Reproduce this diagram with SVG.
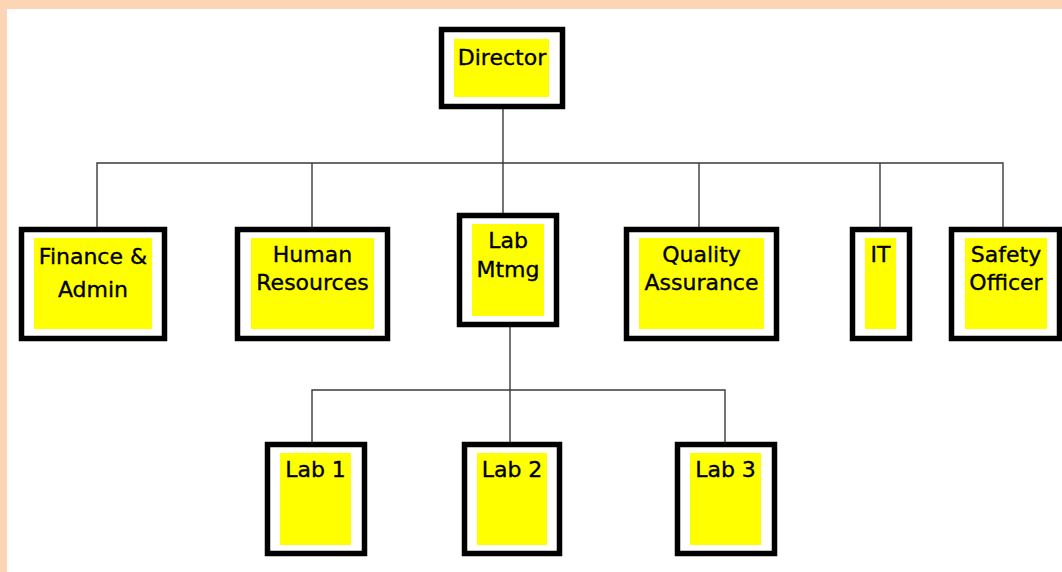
<svg xmlns="http://www.w3.org/2000/svg" width="1062" height="572" viewBox="0 0 1062 572">
  <style>
    .frame { fill: #ffffff; stroke: #000000; stroke-width: 5.5; }
    .fill { fill: #ffff00; }
    .label { font-family: "DejaVu Sans", Verdana, sans-serif; font-size: 22px; fill: #000000; stroke: #000000; stroke-width: 0.35; text-anchor: middle; }
    .wire { fill: none; stroke: #3a3a3a; stroke-width: 1.4; }
  </style>
  <!-- page background with peach margin -->
  <rect x="0" y="0" width="1062" height="572" fill="#fcd5b5"/>
  <rect x="7" y="9" width="1055" height="563" fill="#ffffff"/>

  <g id="connectors">
    <path class="wire" d="M503 109 V213"/>
    <path class="wire" d="M97 227 V163 H1003 V227"/>
    <path class="wire" d="M312 163 V227"/>
    <path class="wire" d="M699 163 V227"/>
    <path class="wire" d="M880 163 V227"/>
    <path class="wire" d="M510 327 V442"/>
    <path class="wire" d="M312 442 V390 H725 V442"/>
  </g>

  <g id="director">
    <rect class="frame" x="441.5" y="29.5" width="121" height="77"/>
    <rect class="fill" x="454" y="39" width="95" height="58"/>
    <text class="label" x="502" y="65">Director</text>
  </g>

  <g id="finance-admin">
    <rect class="frame" x="21.5" y="229.5" width="143" height="109"/>
    <rect class="fill" x="34" y="238" width="118" height="91"/>
    <text class="label" x="93" y="264">Finance &amp;</text>
    <text class="label" x="93" y="297">Admin</text>
  </g>

  <g id="human-resources">
    <rect class="frame" x="237.5" y="229.5" width="150" height="109"/>
    <rect class="fill" x="251" y="238" width="123" height="91"/>
    <text class="label" x="312.5" y="262">Human</text>
    <text class="label" x="312.5" y="290">Resources</text>
  </g>

  <g id="lab-mtmg">
    <rect class="frame" x="459.5" y="215.5" width="97" height="109"/>
    <rect class="fill" x="472" y="224" width="72" height="92"/>
    <text class="label" x="508" y="248">Lab</text>
    <text class="label" x="508" y="277">Mtmg</text>
  </g>

  <g id="quality-assurance">
    <rect class="frame" x="626.5" y="229.5" width="150" height="109"/>
    <rect class="fill" x="639" y="238" width="125" height="91"/>
    <text class="label" x="701.5" y="262">Quality</text>
    <text class="label" x="701.5" y="290">Assurance</text>
  </g>

  <g id="it">
    <rect class="frame" x="852.5" y="229.5" width="57" height="109"/>
    <rect class="fill" x="865" y="238" width="31" height="91"/>
    <text class="label" x="880.5" y="262">IT</text>
  </g>

  <g id="safety-officer">
    <rect class="frame" x="951.5" y="229.5" width="108" height="109"/>
    <rect class="fill" x="965" y="238" width="82" height="91"/>
    <text class="label" x="1006" y="262">Safety</text>
    <text class="label" x="1006" y="290">Officer</text>
  </g>

  <g id="lab-1">
    <rect class="frame" x="267.5" y="444.5" width="97" height="109"/>
    <rect class="fill" x="280" y="453" width="71" height="92"/>
    <text class="label" x="315.5" y="477">Lab 1</text>
  </g>

  <g id="lab-2">
    <rect class="frame" x="464.5" y="444.5" width="95" height="109"/>
    <rect class="fill" x="477" y="453" width="70" height="92"/>
    <text class="label" x="512" y="477">Lab 2</text>
  </g>

  <g id="lab-3">
    <rect class="frame" x="677.5" y="444.5" width="97" height="109"/>
    <rect class="fill" x="690" y="453" width="71" height="92"/>
    <text class="label" x="725.5" y="477">Lab 3</text>
  </g>
</svg>
